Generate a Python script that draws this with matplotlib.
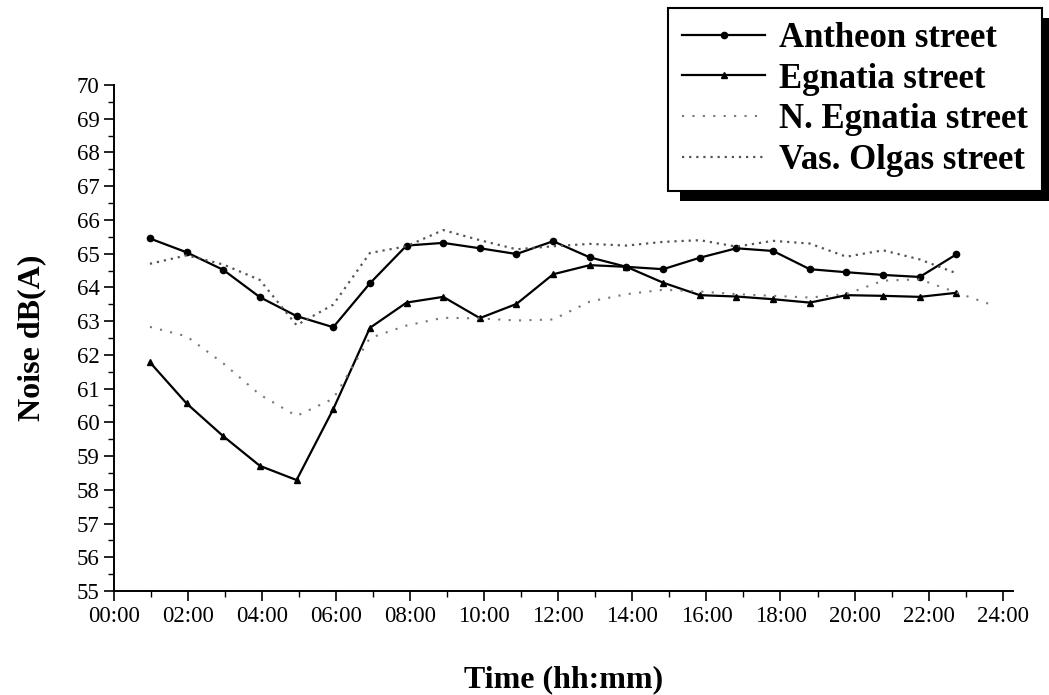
import matplotlib
matplotlib.use("Agg")
import matplotlib.pyplot as plt
from matplotlib.patches import Rectangle
from matplotlib.ticker import MultipleLocator

plt.rcParams['font.family'] = ['Liberation Serif', 'DejaVu Serif']

# hora de cada medición (horas)
horas = [0.97, 1.96, 2.95, 3.94, 4.93, 5.92, 6.91, 7.90, 8.89, 9.88, 10.87, 11.86,
         12.85, 13.84, 14.83, 15.82, 16.81, 17.80, 18.79, 19.78, 20.77, 21.76, 22.75]

antheon = [65.45, 65.04, 64.52, 63.71, 63.15, 62.82, 64.12, 65.24, 65.32, 65.16, 64.99, 65.37,
           64.89, 64.61, 64.54, 64.88, 65.16, 65.08, 64.54, 64.45, 64.37, 64.31, 64.98]

egnatia = [61.78, 60.56, 59.59, 58.71, 58.29, 60.39, 62.80, 63.55, 63.72, 63.09, 63.51, 64.39,
           64.66, 64.61, 64.14, 63.77, 63.73, 63.65, 63.55, 63.77, 63.75, 63.72, 63.84]

# curvas punteadas
horas_neg = horas + [23.66]
n_egnatia = [62.83, 62.55, 61.75, 60.82, 60.19, 60.70, 62.50, 62.87, 63.10, 63.08, 63.02, 63.05,
             63.58, 63.80, 63.93, 63.88, 63.80, 63.75, 63.70, 63.80, 64.20, 64.24, 63.85, 63.50]

vas_olgas = [64.70, 64.95, 64.68, 64.22, 62.88, 63.49, 65.02, 65.22, 65.70, 65.40, 65.13, 65.22,
             65.29, 65.24, 65.35, 65.40, 65.21, 65.38, 65.30, 64.91, 65.10, 64.83, 64.42]

etiquetas_x = ["00:00", "02:00", "04:00", "06:00", "08:00", "10:00", "12:00",
               "14:00", "16:00", "18:00", "20:00", "22:00", "24:00"]

fig = plt.figure(figsize=(10.49, 6.95), dpi=100)
ax = fig.add_axes([0.1087, 0.1496, 0.857, 0.7281])

l1, = ax.plot(horas, antheon, color='black', lw=1.6, marker='o', ms=4.5, label='Antheon street')
l2, = ax.plot(horas, egnatia, color='black', lw=1.6, marker='^', ms=5, label='Egnatia street')
l3, = ax.plot(horas_neg, n_egnatia, color='#777777', lw=1.5, ls=(0, (1, 4)), label='N. Egnatia street')
l4, = ax.plot(horas, vas_olgas, color='#555555', lw=1.6, ls=(0, (1, 2.2)), label='Vas. Olgas street')

ax.set_xlim(0, 24.28)
ax.set_ylim(55, 70)
ax.set_xticks(range(0, 25, 2))
ax.set_xticklabels(etiquetas_x)
ax.xaxis.set_minor_locator(MultipleLocator(1))
ax.set_yticks(range(55, 71))
ax.yaxis.set_minor_locator(MultipleLocator(0.5))
ax.tick_params(which='major', direction='out', length=7, width=1.2, labelsize=16.5)
ax.tick_params(which='minor', direction='out', length=4, width=1.0)
for s in ['top', 'right']:
    ax.spines[s].set_visible(False)
for s in ['left', 'bottom']:
    ax.spines[s].set_linewidth(1.4)

ax.set_xlabel('Time (hh:mm)', fontsize=23, fontweight='bold', labelpad=28)
ax.set_ylabel('Noise dB(A)', fontsize=23, fontweight='bold', labelpad=22)

leg = fig.legend(handles=[l1, l2, l3, l4], loc='upper left',
                 bbox_to_anchor=(668 / 1049, 1 - 8 / 695), bbox_transform=fig.transFigure,
                 prop={'family': 'Liberation Serif', 'weight': 'bold', 'size': 25},
                 frameon=True, fancybox=False, edgecolor='black', framealpha=1,
                 handlelength=2.4, handletextpad=0.4, labelspacing=0.22, borderpad=0.4,
                 borderaxespad=0)
leg.get_frame().set_linewidth(1.5)
leg.set_zorder(5)

# sombra negra de la leyenda
fig.canvas.draw()
bb = leg.get_window_extent().transformed(fig.transFigure.inverted())
sombra = Rectangle((bb.x0 + 12 / 1049, bb.y0 - 10 / 695), bb.width, bb.height,
                   transform=fig.transFigure, facecolor='black', edgecolor='none', zorder=4)
fig.add_artist(sombra)

fig.savefig('out.png', dpi=100)
